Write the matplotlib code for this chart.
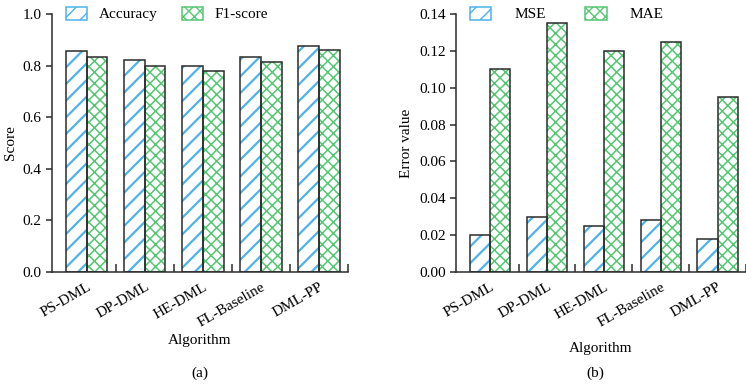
import numpy as np
import matplotlib
matplotlib.use("Agg")
import matplotlib.pyplot as plt
import matplotlib.transforms as mtransforms
from matplotlib.patches import Patch

algorithms = ["PS-DML", "DP-DML", "HE-DML", "FL-Baseline", "DML-PP"]
accuracy = [0.855, 0.82, 0.80, 0.835, 0.875]
f1_score = [0.835, 0.80, 0.78, 0.815, 0.86]
mse = [0.020, 0.030, 0.025, 0.028, 0.018]
mae = [0.110, 0.135, 0.120, 0.125, 0.095]

plt.rcParams['font.family'] = ['Liberation Serif', 'DejaVu Serif']
plt.rcParams['font.size'] = 11

BLUE = '#4db3ea'
GREEN = '#55c673'
EDGE = '#2b2b2b'
WIDTH = 0.355
STRIPE = '//'
CROSS = 'xxx'
STRIPE_LW = 1.6
CROSS_LW = 1.1


def hatched_bars(ax, x, values, hatch, color, lw):
    """White bars with a coloured hatch and a dark outline."""
    bars = ax.bar(x, values, WIDTH, color='white', edgecolor=color,
                  hatch=hatch, linewidth=0, zorder=2)
    for b in bars:
        if hasattr(b, 'set_hatch_linewidth'):
            b.set_hatch_linewidth(lw)
    ax.bar(x, values, WIDTH, fill=False, edgecolor=EDGE, linewidth=1.1, zorder=3)


def legend_handle(hatch, color, lw):
    p = Patch(facecolor='white', edgecolor=color, hatch=hatch, linewidth=1.1)
    if hasattr(p, 'set_hatch_linewidth'):
        p.set_hatch_linewidth(lw)
    return p


def style_axes(ax, xlim):
    x = np.arange(len(algorithms))
    ax.set_xlim(*xlim)
    ax.spines['top'].set_visible(False)
    ax.spines['right'].set_visible(False)
    for s in ('left', 'bottom'):
        ax.spines[s].set_color(EDGE)
        ax.spines[s].set_linewidth(1.1)
    ax.set_xticks(x)
    ax.set_xticklabels(algorithms, rotation=30, ha='right', rotation_mode='anchor')
    offset = mtransforms.ScaledTranslation(10 / 100, 0, ax.figure.dpi_scale_trans)
    for lab in ax.get_xticklabels():
        lab.set_transform(lab.get_transform() + offset)
    ax.tick_params(axis='x', which='major', length=0, pad=6)
    ax.set_xticks(x + 0.5, minor=True)
    ax.tick_params(axis='x', which='minor', direction='in', length=6,
                   width=1.1, color=EDGE)
    ax.tick_params(axis='y', direction='out', length=4, width=1.1, color=EDGE)
    ax.set_xlabel('Algorithm')


fig = plt.figure(figsize=(7.46, 3.85), dpi=100)
ax1 = fig.add_axes([52 / 746, 113 / 385, 296 / 746, 258 / 385])
ax2 = fig.add_axes([456 / 746, 113 / 385, 290 / 746, 258 / 385])

x = np.arange(len(algorithms))

# (a) accuracy and F1
hatched_bars(ax1, x - WIDTH / 2, accuracy, STRIPE, BLUE, STRIPE_LW)
hatched_bars(ax1, x + WIDTH / 2, f1_score, CROSS, GREEN, CROSS_LW)
ax1.set_ylim(0, 1.0)
ax1.set_yticks(np.arange(0, 1.01, 0.2))
ax1.set_yticklabels([f'{v:.1f}' for v in np.arange(0, 1.01, 0.2)])
ax1.set_ylabel('Score')
style_axes(ax1, (-0.6, 4.5))
ax1.xaxis.labelpad = 3
ax1.legend([legend_handle(STRIPE, BLUE, STRIPE_LW), legend_handle(CROSS, GREEN, CROSS_LW)],
           ['Accuracy', 'F1-score'], ncol=2, frameon=False,
           loc='center left', bbox_to_anchor=(0.047, 1.0),
           handlelength=1.4, handleheight=0.95, columnspacing=1.6,
           handletextpad=0.75, borderaxespad=0, borderpad=0, fontsize=11)

# (b) MSE and MAE
hatched_bars(ax2, x - WIDTH / 2, mse, STRIPE, BLUE, STRIPE_LW)
hatched_bars(ax2, x + WIDTH / 2, mae, CROSS, GREEN, CROSS_LW)
ax2.set_ylim(0, 0.14)
ax2.set_yticks(np.arange(0, 0.141, 0.02))
ax2.set_yticklabels([f'{v:.2f}' for v in np.arange(0, 0.141, 0.02)])
ax2.set_ylabel('Error value')
style_axes(ax2, (-0.6, 4.43))
ax2.xaxis.labelpad = 9
ax2.legend([legend_handle(STRIPE, BLUE, STRIPE_LW), legend_handle(CROSS, GREEN, CROSS_LW)],
           ['MSE', 'MAE'], ncol=2, frameon=False,
           loc='center left', bbox_to_anchor=(0.048, 1.0),
           handlelength=1.4, handleheight=0.95, columnspacing=2.6,
           handletextpad=1.5, borderaxespad=0, borderpad=0, fontsize=11)

fig.text(ax1.get_position().x0 + ax1.get_position().width / 2, 12 / 385, '(a)',
         ha='center', va='center', fontsize=11)
fig.text(ax2.get_position().x0 + ax2.get_position().width / 2 - 6 / 746, 12 / 385, '(b)',
         ha='center', va='center', fontsize=11)

fig.savefig('out.png', dpi=100)
